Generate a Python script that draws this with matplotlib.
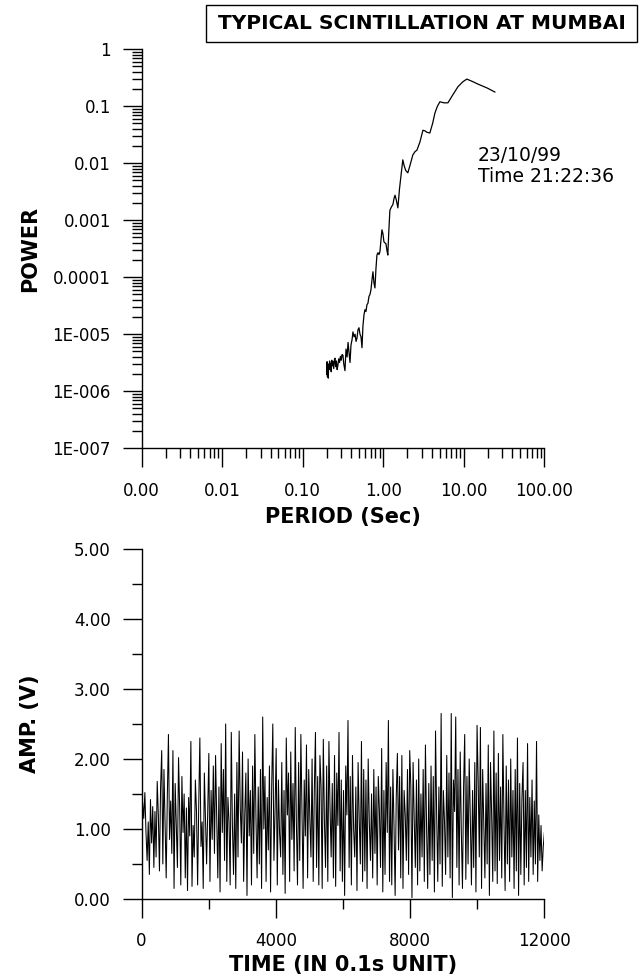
import numpy as np
import matplotlib
matplotlib.use("Agg")
import matplotlib.pyplot as plt
from matplotlib.patches import Rectangle
from matplotlib.ticker import MultipleLocator, LogLocator, FixedLocator, NullFormatter

plt.rcParams["font.family"] = ["DejaVu Sans"]

# power spectrum (period in s, power)
period = [0.199, 0.201, 0.203, 0.205, 0.208, 0.210, 0.213, 0.216, 0.218, 0.222,
          0.226, 0.230, 0.234, 0.238, 0.243, 0.248, 0.252, 0.257, 0.262, 0.268,
          0.274, 0.280, 0.287, 0.294, 0.301, 0.308, 0.316, 0.324, 0.335, 0.345,
          0.356, 0.366, 0.376, 0.387, 0.398, 0.410, 0.421, 0.435, 0.447, 0.460,
          0.472, 0.486, 0.500, 0.515, 0.530, 0.545, 0.560, 0.577, 0.593, 0.610,
          0.628, 0.646, 0.665, 0.685, 0.704, 0.725, 0.745, 0.767, 0.789, 0.812,
          0.835, 0.860, 0.885, 0.910, 0.937, 0.964, 0.992, 1.02, 1.05, 1.08,
          1.11, 1.14, 1.17, 1.21, 1.26, 1.32, 1.36, 1.40, 1.45, 1.52,
          1.59, 1.67, 1.75, 1.82, 1.90, 2.02, 2.14, 2.33, 2.48, 2.62,
          2.85, 3.11, 3.30, 3.48, 3.79, 4.10, 4.38, 4.70, 5.05, 5.66,
          6.35, 7.33, 8.45, 9.75, 10.9, 12.6, 15.0, 19.4, 24.3]
power = [2.0e-6, 3.3e-6, 1.8e-6, 2.9e-6, 1.7e-6, 3.0e-6, 2.4e-6, 3.4e-6, 2.6e-6, 3.1e-6,
         2.2e-6, 3.5e-6, 2.8e-6, 3.3e-6, 2.5e-6, 3.6e-6, 3.8e-6, 2.7e-6, 3.4e-6, 2.4e-6,
         2.9e-6, 3.7e-6, 3.2e-6, 4.1e-6, 3.5e-6, 4.4e-6, 4.3e-6, 3.0e-6, 2.3e-6, 5.5e-6,
         4.0e-6, 7.2e-6, 4.8e-6, 3.2e-6, 6.5e-6, 8.0e-6, 1.1e-5, 9.0e-6, 1.0e-5, 7.5e-6,
         8.5e-6, 1.2e-5, 1.3e-5, 1.0e-5, 9.0e-6, 5.8e-6, 1.4e-5, 2.2e-5, 2.7e-5, 2.5e-5,
         3.3e-5, 3.5e-5, 4.6e-5, 5.0e-5, 6.0e-5, 9.0e-5, 1.25e-4, 8.0e-5, 6.5e-5, 1.4e-4,
         2.45e-4, 2.7e-4, 2.5e-4, 2.8e-4, 4.5e-4, 6.8e-4, 5.8e-4, 4.2e-4, 4.0e-4, 3.9e-4,
         3.0e-4, 2.45e-4, 6.0e-4, 1.5e-3, 1.7e-3, 1.9e-3, 2.4e-3, 2.75e-3, 2.3e-3, 1.65e-3,
         3.5e-3, 6.5e-3, 1.15e-2, 9.0e-3, 7.5e-3, 6.8e-3, 9.0e-3, 1.4e-2, 1.6e-2, 1.7e-2,
         2.35e-2, 3.8e-2, 3.7e-2, 3.5e-2, 3.4e-2, 5.0e-2, 7.6e-2, 1.0e-1, 1.2e-1, 1.15e-1,
         1.15e-1, 1.6e-1, 2.2e-1, 2.7e-1, 3.0e-1, 2.75e-1, 2.45e-1, 2.1e-1, 1.78e-1]

# amplitude record (V), sampled evenly over 0..12000 (0.1 s units)
amp = [1.30, 1.38, 1.15, 1.52, 0.95, 0.55, 1.10, 0.35, 1.42, 0.80, 1.32, 0.45, 1.25, 0.60, 1.68, 1.20, 0.40, 1.60, 2.12, 0.50,
       1.85, 1.10, 0.30, 1.45, 2.35, 0.85, 1.40, 0.65, 2.12, 0.15, 1.65, 1.05, 0.45, 2.02, 1.30, 0.20, 1.75, 0.95, 1.50, 0.30,
       1.30, 0.12, 1.45, 0.90, 2.25, 0.18, 1.05, 0.60, 1.70, 1.25, 0.20, 1.35, 2.30, 0.75, 1.10, 0.15, 1.80, 1.15, 0.50, 1.25,
       2.08, 0.25, 1.55, 0.85, 1.90, 0.65, 2.05, 1.20, 0.30, 1.60, 0.10, 2.22, 0.95, 1.85, 0.55, 2.50, 0.25, 1.45, 1.10, 0.20,
       2.38, 1.05, 0.35, 1.50, 0.15, 1.95, 0.60, 2.40, 1.30, 0.80, 2.10, 0.25, 1.20, 1.80, 0.05, 2.00, 0.90, 1.55, 0.20, 1.90,
       0.65, 2.35, 1.15, 0.30, 1.60, 0.50, 1.85, 0.15, 2.60, 1.00, 1.75, 0.25, 1.45, 0.70, 1.90, 0.10, 1.60, 2.50, 0.55, 1.25,
       2.15, 0.20, 1.70, 0.95, 0.60, 1.95, 0.35, 1.55, 0.08, 2.30, 1.20, 1.80, 0.25, 2.10, 0.85, 1.65, 0.40, 2.45, 1.10, 0.20,
       1.95, 0.55, 2.35, 1.25, 0.15, 1.70, 0.90, 2.20, 0.30, 1.85, 1.15, 0.60, 2.00, 0.25, 1.55, 2.38, 0.45, 1.75, 0.20, 2.05,
       1.60, 0.15, 2.28, 1.10, 0.45, 1.90, 0.25, 2.25, 1.30, 0.60, 1.65, 0.30, 2.05, 0.18, 1.80, 1.05, 2.38, 0.40, 1.70, 0.25,
       1.55, 0.05, 1.90, 1.20, 2.55, 0.45, 1.75, 0.20, 2.05, 1.00, 0.60, 1.60, 0.12, 1.95, 1.15, 0.50, 2.25, 0.25, 1.85, 0.40,
       1.70, 0.15, 2.00, 1.10, 0.55, 1.50, 0.30, 1.85, 0.65, 1.60, 0.20, 1.75, 1.25, 0.45, 2.15, 0.10, 1.55, 0.35, 1.95, 0.95,
       2.55, 0.25, 1.60, 0.20, 1.85, 1.05, 0.05, 1.45, 2.08, 0.70, 1.75, 0.30, 2.05, 0.15, 1.55, 1.20, 0.55, 1.85, 0.35, 2.12,
       1.60, 0.02, 1.95, 1.15, 0.45, 1.70, 0.20, 2.00, 0.40, 1.50, 0.60, 1.85, 0.25, 2.20, 1.05, 0.15, 1.65, 0.35, 1.90, 0.55,
       1.75, 0.10, 2.40, 1.20, 0.25, 1.60, 0.50, 2.65, 0.18, 1.55, 1.10, 0.35, 2.05, 0.60, 1.80, 0.30, 2.65, 0.02, 1.70, 1.25,
       2.60, 0.45, 1.85, 0.20, 2.10, 0.95, 0.15, 1.60, 2.35, 0.28, 1.75, 0.50, 2.00, 1.15, 0.20, 1.55, 0.45, 1.95, 0.10, 2.48,
       1.70, 0.60, 2.45, 0.15, 1.85, 1.05, 0.30, 1.65, 0.50, 2.20, 0.05, 1.95, 1.20, 0.25, 2.40, 0.40, 1.80, 0.22, 2.08, 0.55,
       1.60, 0.30, 2.35, 1.10, 0.12, 1.90, 0.50, 1.70, 0.25, 2.00, 0.60, 1.55, 0.15, 1.85, 0.40, 2.30, 0.05, 1.65, 0.35, 1.45,
       1.95, 0.20, 1.55, 0.45, 2.22, 0.25, 1.45, 0.60, 1.70, 0.35, 1.40, 0.50, 2.25, 0.25, 1.20, 0.55, 1.05, 0.40, 0.75, 0.95]
t_end = 12000

period_ticks = [0.001, 0.01, 0.1, 1, 10, 100]
period_labels = ["0.00", "0.01", "0.10", "1.00", "10.00", "100.00"]
power_ticks = [1e-7, 1e-6, 1e-5, 1e-4, 1e-3, 1e-2, 1e-1, 1]
power_labels = ["1E-007", "1E-006", "1E-005", "0.0001", "0.001", "0.01", "0.1", "1"]
time_ticks = [0, 4000, 8000, 12000]
amp_ticks = [0, 1, 2, 3, 4, 5]


def style_axes(ax):
    for s in ("top", "right"):
        ax.spines[s].set_visible(False)
    for s in ("left", "bottom"):
        ax.spines[s].set_linewidth(1.0)
    ax.tick_params(axis="y", which="major", direction="out", length=14, width=1.0,
                   pad=8, labelsize=12)
    ax.tick_params(axis="y", which="minor", direction="out", length=7, width=1.0)
    ax.tick_params(axis="x", which="major", direction="out", length=14, width=1.0,
                   pad=10, labelsize=12)
    ax.tick_params(axis="x", which="minor", direction="out", length=7, width=1.0)


fig = plt.figure(figsize=(6.4, 9.8), dpi=100)

# === Spectrum ===
ax1 = fig.add_axes([0.2211, 0.5426, 0.6295, 0.4071])
ax1.plot(period, power, color="black", linewidth=0.9)
ax1.set_xscale("log")
ax1.set_yscale("log")
ax1.set_xlim(0.001, 100)
ax1.set_ylim(1e-7, 1)
ax1.xaxis.set_major_locator(FixedLocator(period_ticks))
ax1.set_xticklabels(period_labels)
ax1.xaxis.set_minor_locator(LogLocator(base=10, subs=np.arange(2, 10), numticks=20))
ax1.xaxis.set_minor_formatter(NullFormatter())
ax1.yaxis.set_major_locator(FixedLocator(power_ticks))
ax1.set_yticklabels(power_labels)
ax1.yaxis.set_minor_locator(LogLocator(base=10, subs=np.arange(2, 10), numticks=20))
ax1.yaxis.set_minor_formatter(NullFormatter())
style_axes(ax1)
ax1.set_xlabel("PERIOD (Sec)", fontsize=15, fontweight="bold", va="center")
ax1.xaxis.set_label_coords(0.5, -0.172)
ax1.set_ylabel("POWER", fontsize=15, fontweight="bold", va="center")
ax1.yaxis.set_label_coords(-0.277, 0.5)
ax1.text(0.835, 0.758, "23/10/99\nTime 21:22:36", transform=ax1.transAxes,
         fontsize=13.5, ha="left", va="top", linespacing=1.15)

# === Time series ===
ax2 = fig.add_axes([0.2211, 0.0827, 0.6295, 0.3571])
t = np.arange(len(amp)) * t_end / (len(amp) - 1)
ax2.plot(t, amp, color="black", linewidth=0.75)
ax2.set_xlim(0, t_end)
ax2.set_ylim(0, 5)
ax2.set_xticks(time_ticks)
ax2.set_xticklabels([str(v) for v in time_ticks])
ax2.xaxis.set_minor_locator(MultipleLocator(2000))
ax2.set_yticks(amp_ticks)
ax2.set_yticklabels([f"{v:.2f}" for v in amp_ticks])
ax2.yaxis.set_minor_locator(MultipleLocator(0.5))
style_axes(ax2)
ax2.set_xlabel("TIME (IN 0.1s UNIT)", fontsize=15, fontweight="bold", va="center")
ax2.xaxis.set_label_coords(0.5, -0.189)
ax2.set_ylabel("AMP. (V)", fontsize=15, fontweight="bold", va="center")
ax2.yaxis.set_label_coords(-0.277, 0.5)

# title box
fig.patches.append(Rectangle((0.322, 0.957), 0.674, 0.0378, transform=fig.transFigure,
                             fc="white", ec="black", lw=1.0))
fig.text(0.659, 0.976, "TYPICAL SCINTILLATION AT MUMBAI", fontsize=14.5,
         fontweight="bold", ha="center", va="center")

fig.savefig("out.png", dpi=100)
